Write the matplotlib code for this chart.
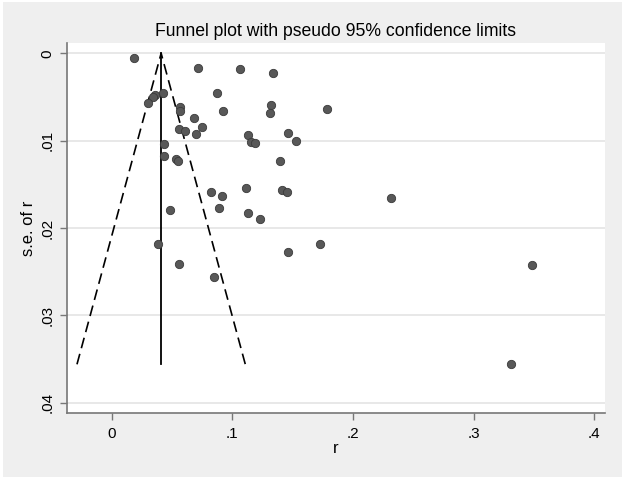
import matplotlib
matplotlib.use("Agg")
import matplotlib.pyplot as plt
from matplotlib.patches import Rectangle

# Effect sizes (r) and their standard errors
r_values = [0.0187, 0.0716, 0.1061, 0.1337, 0.0869, 0.0428, 0.0361, 0.0342,
            0.0297, 0.0568, 0.0564, 0.0925, 0.1319, 0.1314, 0.1781, 0.0685,
            0.0745, 0.0556, 0.0604, 0.0697, 0.1130, 0.1462, 0.1159, 0.1190,
            0.1528, 0.0430, 0.0432, 0.0537, 0.0550, 0.1397, 0.0826, 0.0915,
            0.1116, 0.1416, 0.1456, 0.2313, 0.0481, 0.0891, 0.1129, 0.1227,
            0.0382, 0.0554, 0.0846, 0.1459, 0.1731, 0.3488, 0.3311]
se_values = [0.00057, 0.00172, 0.00180, 0.00226, 0.00454, 0.00454, 0.00481, 0.00504,
             0.00572, 0.00611, 0.00664, 0.00661, 0.00586, 0.00678, 0.00635, 0.00746,
             0.00838, 0.00870, 0.00886, 0.00926, 0.00932, 0.00909, 0.01010, 0.01023,
             0.01002, 0.01033, 0.01179, 0.01212, 0.01235, 0.01233, 0.01584, 0.01628,
             0.01540, 0.01565, 0.01584, 0.01653, 0.01794, 0.01774, 0.01826, 0.01897,
             0.02181, 0.02409, 0.02563, 0.02275, 0.02187, 0.02420, 0.03560]

pooled_r = 0.041
se_max = 0.0356
z = 1.96

x_ticks = [0, 0.1, 0.2, 0.3, 0.4]
x_tick_labels = ["0", ".1", ".2", ".3", ".4"]
y_ticks = [0, 0.01, 0.02, 0.03, 0.04]
y_tick_labels = ["0", ".01", ".02", ".03", ".04"]

title = "Funnel plot with pseudo 95% confidence limits"
x_label = "r"
y_label = "s.e. of r"

plt.rcParams['font.family'] = ['Liberation Sans', 'DejaVu Sans']

W, H = 624, 479
fig = plt.figure(figsize=(W / 100, H / 100), dpi=100, facecolor='white')
fig.patches.append(Rectangle((3 / W, 2 / H), 619 / W, 475 / H, transform=fig.transFigure,
                             facecolor='#efefef', edgecolor='none', zorder=-10))

ax = fig.add_axes([66.7 / W, 1 - 412.7 / H, (605 - 66.7) / W, (412.7 - 43) / H])
ax.set_facecolor('white')

# gridlines
for yt in y_ticks:
    ax.axhline(yt, color='#e4e4e4', lw=1.2, zorder=0)

# funnel
ax.plot([pooled_r - z * se_max, pooled_r, pooled_r + z * se_max], [se_max, 0, se_max],
        color='black', lw=1.2, dashes=(6.5, 3.5), zorder=2)
ax.plot([pooled_r, pooled_r], [0, se_max], color='black', lw=1.3, zorder=2)

ax.scatter(r_values, se_values, s=36, facecolor='#585858', edgecolor='#3a3a3a',
           linewidths=0.6, zorder=3)

ax.set_xlim(-0.0373, 0.409)
ax.set_ylim(0.04114, -0.00118)

ax.set_xticks(x_ticks)
ax.set_xticklabels(x_tick_labels)
ax.set_yticks(y_ticks)
ax.set_yticklabels(y_tick_labels, rotation=90, va='center')

for s in ['top', 'right']:
    ax.spines[s].set_visible(False)
for s in ['left', 'bottom']:
    ax.spines[s].set_color('#777777')
    ax.spines[s].set_linewidth(1.2)

ax.tick_params(axis='both', direction='out', length=5, width=1.0, color='#777777',
               labelsize=11, labelcolor='black')
ax.tick_params(axis='x', pad=5)
ax.tick_params(axis='y', pad=4)

ax.set_xlabel(x_label, fontsize=12, labelpad=0)
ax.set_ylabel(y_label, fontsize=12, labelpad=3)
ax.set_title(title, fontsize=12.7, pad=5)

fig.savefig("out.png", dpi=100, facecolor=fig.get_facecolor())
